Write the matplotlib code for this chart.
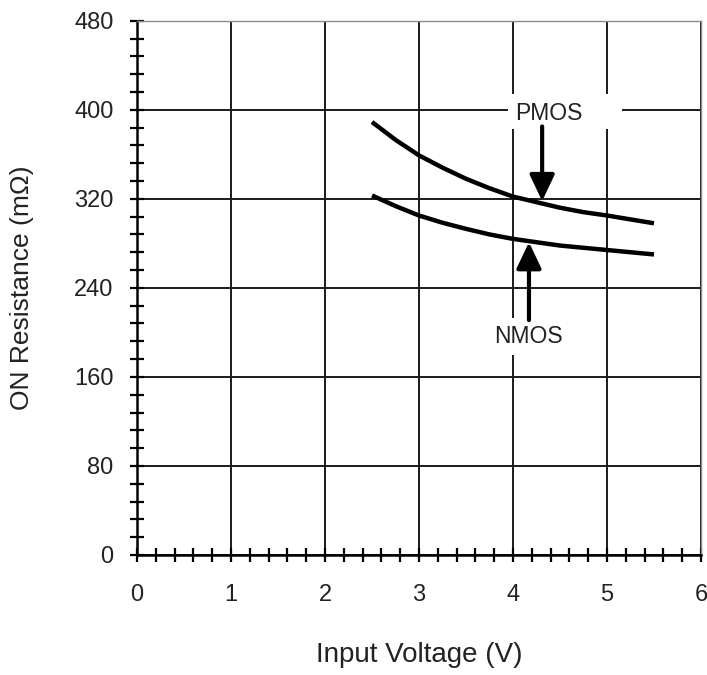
import numpy as np
import matplotlib
matplotlib.use("Agg")
import matplotlib.pyplot as plt
from matplotlib.patches import Rectangle
from matplotlib.ticker import MultipleLocator

plt.rcParams['font.family'] = ['Liberation Sans', 'DejaVu Sans']

# data
vin = [2.5, 2.75, 3.0, 3.25, 3.5, 3.75, 4.0, 4.25, 4.5, 4.75, 5.0, 5.25, 5.5]
r_pmos = [389, 373, 359, 348, 338, 329.5, 322, 317, 312, 308, 305, 301.5, 298]
r_nmos = [323, 313.5, 305, 298.5, 293, 288, 284, 281, 278, 276, 274, 272, 270]

x_ticks = [0, 1, 2, 3, 4, 5, 6]
y_ticks = [0, 80, 160, 240, 320, 400, 480]

fig = plt.figure(figsize=(7.07, 6.75), dpi=100)
ax = fig.add_axes([0.1938, 0.1778, 0.7977, 0.7915])

ax.plot(vin, r_pmos, color='black', lw=3.2, solid_capstyle='butt', zorder=4)
ax.plot(vin, r_nmos, color='black', lw=3.2, solid_capstyle='butt', zorder=4)

ax.set_xlim(0, 6)
ax.set_ylim(0, 480)
ax.set_xticks(x_ticks)
ax.set_yticks(y_ticks)
ax.xaxis.set_minor_locator(MultipleLocator(0.2))
ax.yaxis.set_minor_locator(MultipleLocator(16))

ax.grid(True, which='major', color='#1a1a1a', lw=1.4, zorder=1)
ax.set_axisbelow(True)

for side in ['left', 'bottom']:
    ax.spines[side].set_linewidth(1.8)
    ax.spines[side].set_color('black')
for side in ['top', 'right']:
    ax.spines[side].set_linewidth(1.0)
    ax.spines[side].set_color('#8a8a8a')

ax.tick_params(which='both', direction='inout', top=False, right=False,
               color='black', width=1.6)
ax.tick_params(which='major', length=10, labelsize=17, labelcolor='#222222')
ax.tick_params(which='minor', length=10)
ax.tick_params(axis='y', which='major', pad=12)
ax.tick_params(axis='x', which='major', pad=16)

ax.set_xlabel('Input Voltage (V)', fontsize=20, color='#222222', labelpad=26)
ax.set_ylabel('ON Resistance (m\u03a9)', fontsize=19, color='#222222')
ax.yaxis.set_label_coords(-0.183, 0.5)

# white label backgrounds that break the grid
ax.add_patch(Rectangle((3.95, 383), 1.21, 31, facecolor='white',
                       edgecolor='none', zorder=2))
ax.text(4.02, 397, 'PMOS', fontsize=16.5, color='#222222', va='center',
        ha='left', zorder=5)
ax.text(4.16, 196, 'NMOS', fontsize=16.5, color='#222222', va='center',
        ha='center', zorder=5,
        bbox=dict(boxstyle='square,pad=0.3', facecolor='white', edgecolor='none'))

arrow = dict(arrowstyle='-|>,head_length=0.8,head_width=0.38', lw=3,
             color='black', shrinkA=0, shrinkB=0, mutation_scale=20)
ax.annotate('', xy=(4.31, 318), xytext=(4.31, 385), arrowprops=arrow, zorder=6)
ax.annotate('', xy=(4.17, 281), xytext=(4.17, 211), arrowprops=arrow, zorder=6)

fig.savefig('out.png', dpi=100, facecolor='white')
